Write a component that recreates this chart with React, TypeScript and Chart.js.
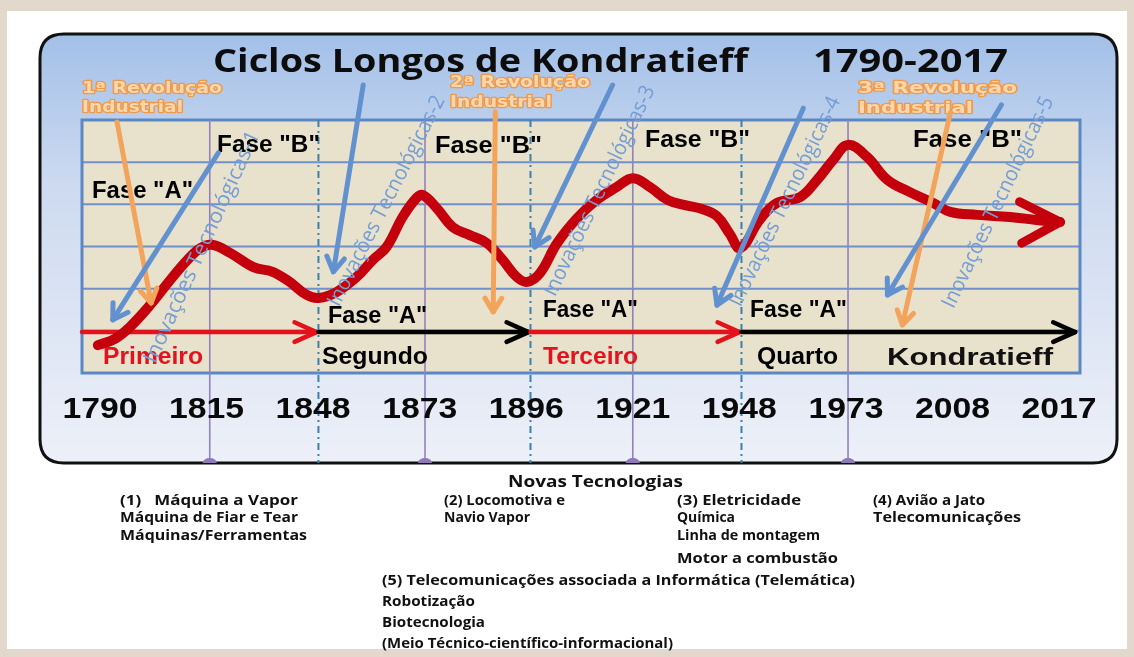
import React, { useEffect, useRef } from "react";
import { Chart, registerables } from "chart.js";

Chart.register(...registerables);

// ---------- DATA ----------
const yearLabels = ["1790", "1815", "1848", "1873", "1896", "1921", "1948", "1973", "2008", "2017"];
const yearTickPositions = [0, 1, 2, 3, 4, 5, 6, 7, 8, 9];
const gridLevels = [0, 1, 2, 3, 4, 5, 6];
const X_MIN = -0.169;
const X_MAX = 9.197;

// long-wave curve (x = position on the year axis, y = level)
const curveX = [-0.02, 0.14, 0.28, 0.47, 0.66, 0.82, 0.94, 1.05, 1.22, 1.44, 1.62, 1.78, 1.94, 2.05, 2.22, 2.41, 2.56, 2.69, 2.84, 2.97, 3.03, 3.16, 3.31, 3.47, 3.63, 3.78, 3.91, 4.01, 4.13, 4.29, 4.48, 4.66, 4.85, 5.0, 5.16, 5.33, 5.49, 5.65, 5.79, 5.91, 6.01, 6.19, 6.35, 6.57, 6.73, 6.88, 7.02, 7.2, 7.39, 7.6, 7.82, 7.98, 8.23, 8.54, 8.79, 9.01];
const curveY = [0.66, 0.81, 1.09, 1.61, 2.21, 2.68, 2.96, 3.04, 2.85, 2.51, 2.4, 2.16, 1.85, 1.78, 1.92, 2.28, 2.68, 2.99, 3.7, 4.15, 4.22, 3.91, 3.46, 3.27, 3.08, 2.68, 2.28, 2.16, 2.37, 3.08, 3.68, 4.1, 4.41, 4.62, 4.41, 4.1, 3.98, 3.89, 3.72, 3.3, 2.96, 3.63, 4.03, 4.17, 4.58, 5.05, 5.41, 5.12, 4.58, 4.29, 4.03, 3.82, 3.75, 3.7, 3.63, 3.58];
const headUpperX = [8.63, 9.01];
const headUpperY = [4.06, 3.58];
const headLowerX = [8.65, 9.01];
const headLowerY = [3.08, 3.58];

// cycle turning points on the axis
const peakPositions = [1.03, 3.05, 5.0, 7.02];
const troughPositions = [2.05, 4.04, 6.02];

// phase arrows ("Primeiro", "Segundo", ...)
const phaseLevel = 0.97;
const phaseStarts = [-0.169, 2.05, 4.04, 6.02];
const phaseEnds = [2.05, 4.04, 6.02, 9.17];
const phaseNames = ["Primeiro", "Segundo", "Terceiro", "Quarto"];

// revolution arrows (orange) & innovation arrows (blue): from -> to
const revFromX = [0.16, 3.71, 7.98];
const revFromY = [5.95, 6.19, 6.17];
const revToX = [0.48, 3.69, 7.53];
const revToY = [1.66, 1.45, 1.14];
const revLabels = ["1ª Revolução", "2ª Revolução", "3ª Revolução"];

const innFromX = [1.11, 2.47, 4.81, 6.6, 8.46];
const innFromY = [5.22, 6.83, 6.83, 6.28, 6.36];
const innToX = [0.12, 2.19, 4.08, 5.79, 7.39];
const innToY = [1.26, 2.4, 2.99, 1.61, 1.85];
const innLabels = ["Inovações Tecnológicas-1", "Inovações Tecnológicas-2", "Inovações Tecnológicas-3", "Inovações Tecnológicas-4", "Inovações Tecnológicas-5"];
const innTextStartX = [0.47, 2.19, 4.22, 5.96, 7.96];
const innTextStartY = [0.26, 1.61, 1.85, 1.61, 1.57];
const innTextEndX = [1.45, 3.19, 5.16, 6.9, 8.9];
const innTextEndY = [5.71, 6.54, 6.78, 6.52, 6.52];

// ---------- STYLE ----------
const RED_CURVE = "#c3000c";
const RED_ARROW = "#e3121c";
const ORANGE = "#f3a45c";
const BLUE = "#6291cf";
const BLUE_TEXT = "#739dd5";
const ARIAL = "'Liberation Sans', Arial, sans-serif";
const CAL = "'Open Sans', 'Noto Sans', sans-serif";

function txt(ctx: CanvasRenderingContext2D, s: string, x: number, y: number, font: string, color: string, w?: number, align: CanvasTextAlign = "left") {
  ctx.save();
  ctx.font = font;
  ctx.fillStyle = color;
  ctx.textBaseline = "alphabetic";
  ctx.textAlign = align;
  const m = ctx.measureText(s).width;
  const sx = w ? w / m : 1;
  ctx.translate(x, y);
  ctx.scale(sx, 1);
  ctx.fillText(s, 0, 0);
  ctx.restore();
}

function arrow(ctx: CanvasRenderingContext2D, x1: number, y1: number, x2: number, y2: number, color: string, width: number, head: number, spread = 0.5) {
  const a = Math.atan2(y2 - y1, x2 - x1);
  ctx.save();
  ctx.strokeStyle = color;
  ctx.lineWidth = width;
  ctx.lineCap = "round";
  ctx.lineJoin = "round";
  ctx.beginPath();
  ctx.moveTo(x1, y1);
  ctx.lineTo(x2, y2);
  ctx.stroke();
  ctx.beginPath();
  ctx.moveTo(x2 - head * Math.cos(a - spread), y2 - head * Math.sin(a - spread));
  ctx.lineTo(x2, y2);
  ctx.lineTo(x2 - head * Math.cos(a + spread), y2 - head * Math.sin(a + spread));
  ctx.stroke();
  ctx.restore();
}

function roundRect(ctx: CanvasRenderingContext2D, x: number, y: number, w: number, h: number, r: number) {
  ctx.beginPath();
  ctx.moveTo(x + r, y);
  ctx.lineTo(x + w - r, y);
  ctx.quadraticCurveTo(x + w, y, x + w, y + r);
  ctx.lineTo(x + w, y + h - r);
  ctx.quadraticCurveTo(x + w, y + h, x + w - r, y + h);
  ctx.lineTo(x + r, y + h);
  ctx.quadraticCurveTo(x, y + h, x, y + h - r);
  ctx.lineTo(x, y + r);
  ctx.quadraticCurveTo(x, y, x + r, y);
  ctx.closePath();
}

const CARD_BOTTOM = 463;

const decoPlugin = {
  id: "kondratieffDeco",
  beforeDraw(chart: any) {
    const ctx: CanvasRenderingContext2D = chart.ctx;
    const xs = chart.scales.x;
    const ys = chart.scales.y;
    const a = chart.chartArea;
    ctx.save();
    // page background
    ctx.fillStyle = "#e2d9cc";
    ctx.fillRect(0, 0, chart.width, chart.height);
    ctx.fillStyle = "#ffffff";
    ctx.fillRect(7, 11, 1120, 638);
    // card
    const g = ctx.createLinearGradient(0, 34, 0, CARD_BOTTOM);
    g.addColorStop(0, "#a3c0e8");
    g.addColorStop(0.35, "#cddaf0");
    g.addColorStop(1, "#edf0f8");
    roundRect(ctx, 40, 34, 1077, CARD_BOTTOM - 34, 24);
    ctx.fillStyle = g;
    ctx.fill();
    ctx.lineWidth = 3;
    ctx.strokeStyle = "#111111";
    ctx.stroke();
    // grid panel
    ctx.fillStyle = "#e8e1cb";
    ctx.fillRect(a.left, a.top, a.right - a.left, a.bottom - a.top);
    ctx.strokeStyle = "#6f90ca";
    ctx.lineWidth = 2;
    gridLevels.forEach((v) => {
      const y = ys.getPixelForValue(v);
      ctx.beginPath();
      ctx.moveTo(a.left, y);
      ctx.lineTo(a.right, y);
      ctx.stroke();
    });
    ctx.strokeStyle = "#5b87c7";
    ctx.lineWidth = 3;
    ctx.strokeRect(a.left, a.top, a.right - a.left, a.bottom - a.top);
    // vertical markers
    peakPositions.forEach((p) => {
      const x = xs.getPixelForValue(p);
      ctx.strokeStyle = "#9182bd";
      ctx.lineWidth = 1.6;
      ctx.beginPath();
      ctx.moveTo(x, a.top);
      ctx.lineTo(x, CARD_BOTTOM);
      ctx.stroke();
      ctx.fillStyle = "#8e7ab7";
      ctx.beginPath();
      ctx.ellipse(x, CARD_BOTTOM, 7, 5, 0, Math.PI, 0);
      ctx.fill();
    });
    ctx.setLineDash([7, 4, 2, 4]);
    troughPositions.forEach((p) => {
      const x = xs.getPixelForValue(p);
      ctx.strokeStyle = "#3a80b0";
      ctx.lineWidth = 2;
      ctx.beginPath();
      ctx.moveTo(x, a.top);
      ctx.lineTo(x, CARD_BOTTOM);
      ctx.stroke();
    });
    ctx.setLineDash([]);

    // phase arrows
    const py = ys.getPixelForValue(phaseLevel);
    phaseStarts.forEach((s, i) => {
      const col = i % 2 === 0 ? RED_ARROW : "#000000";
      arrow(ctx, xs.getPixelForValue(s), py, xs.getPixelForValue(phaseEnds[i]) - 2, py, col, 4.5, 24, 0.42);
    });

    // title
    txt(ctx, "Ciclos Longos de Kondratieff", 213, 72, `bold 32px ${CAL}`, "#0d0d0d", 535);
    txt(ctx, "1790-2017", 813, 72, `bold 32px ${CAL}`, "#0d0d0d", 195);

    // revolution labels
    const revPos = [[82, 93, 140, 112, 101], [450, 87, 140, 107, 102], [858, 93, 159, 113, 115]];
    revLabels.forEach((l, i) => {
      const [x, y1, w1, y2, w2] = revPos[i];
      [[l, y1, w1], ["Industrial", y2, w2]].forEach(([s, yy, ww]: any) => {
        ctx.save();
        ctx.font = `bold 15px 'DejaVu Sans', sans-serif`;
        const m = ctx.measureText(s).width;
        ctx.translate(x, yy);
        ctx.scale(ww / m, 1);
        ctx.lineWidth = 2.5;
        ctx.strokeStyle = "#ef9a4a";
        ctx.lineJoin = "round";
        ctx.strokeText(s, 0, 0);
        ctx.fillStyle = "#fcd7ad";
        ctx.fillText(s, 0, 0);
        ctx.restore();
      });
    });

    // phase labels
    const F = `bold 23px ${ARIAL}`;
    txt(ctx, 'Fase "A"', 92, 198, F, "#000", 101);
    txt(ctx, 'Fase "B"', 217, 152, F, "#000", 103);
    txt(ctx, 'Fase "B"', 435, 153, F, "#000", 107);
    txt(ctx, 'Fase "B"', 645, 147, F, "#000", 105);
    txt(ctx, 'Fase "B"', 913, 147, F, "#000", 109);
    txt(ctx, 'Fase "A"', 328, 323, F, "#000", 99);
    txt(ctx, 'Fase "A"', 543, 317, F, "#000", 95);
    txt(ctx, 'Fase "A"', 750, 317, F, "#000", 97);
    const nameX = [103, 322, 543, 757];
    const nameW = [100, 106, 95, 81];
    phaseNames.forEach((n, i) => {
      txt(ctx, n, nameX[i], 364, F, i % 2 === 0 ? RED_ARROW : "#000", nameW[i]);
    });
    txt(ctx, "Kondratieff", 887, 365, `bold 24px ${ARIAL}`, "#111", 166);

    // year labels via the x scale
    yearTickPositions.forEach((p, i) => {
      txt(ctx, yearLabels[i], xs.getPixelForValue(p), 418, `bold 30px ${ARIAL}`, "#0a0a0a", 75, "center");
    });

    // bottom notes
    const B = `bold 14px ${CAL}`;
    txt(ctx, "Novas Tecnologias", 508, 487, `bold 16px ${CAL}`, "#111", 175);
    txt(ctx, "(1)   Máquina a Vapor", 120, 505, B, "#111", 178);
    txt(ctx, "Máquina de Fiar e Tear", 120, 522, B, "#111", 178);
    txt(ctx, "Máquinas/Ferramentas", 120, 540, B, "#111", 187);
    txt(ctx, "(2) Locomotiva e", 444, 505, B, "#111", 121);
    txt(ctx, "Navio Vapor", 444, 522, B, "#111", 86);
    txt(ctx, "(3) Eletricidade", 677, 505, B, "#111", 124);
    txt(ctx, "Química", 677, 522, B, "#111", 58);
    txt(ctx, "Linha de montagem", 677, 540, B, "#111", 143);
    txt(ctx, "Motor a combustão", 677, 563, `bold 15px ${CAL}`, "#111", 161);
    txt(ctx, "(4) Avião a Jato", 873, 505, B, "#111", 112);
    txt(ctx, "Telecomunicações", 873, 522, B, "#111", 148);
    const C = `bold 15px ${CAL}`;
    txt(ctx, "(5) Telecomunicações associada a Informática (Telemática)", 382, 585, C, "#111", 473);
    txt(ctx, "Robotização", 382, 606, C, "#111", 93);
    txt(ctx, "Biotecnologia", 382, 627, C, "#111", 103);
    txt(ctx, "(Meio Técnico-científico-informacional)", 382, 648, C, "#111", 291);
    ctx.restore();
  },
  afterDatasetsDraw(chart: any) {
    const ctx: CanvasRenderingContext2D = chart.ctx;
    const xs = chart.scales.x;
    const ys = chart.scales.y;
    ctx.save();
    revFromX.forEach((fx, i) => {
      arrow(ctx, xs.getPixelForValue(fx), ys.getPixelForValue(revFromY[i]), xs.getPixelForValue(revToX[i]), ys.getPixelForValue(revToY[i]), ORANGE, 5, 16, 0.55);
    });
    innFromX.forEach((fx, i) => {
      arrow(ctx, xs.getPixelForValue(fx), ys.getPixelForValue(innFromY[i]), xs.getPixelForValue(innToX[i]), ys.getPixelForValue(innToY[i]), BLUE, 5, 17, 0.55);
    });
    innLabels.forEach((l, i) => {
      const x1 = xs.getPixelForValue(innTextStartX[i]);
      const y1 = ys.getPixelForValue(innTextStartY[i]);
      const x2 = xs.getPixelForValue(innTextEndX[i]);
      const y2 = ys.getPixelForValue(innTextEndY[i]);
      const len = Math.hypot(x2 - x1, y2 - y1);
      const ang = Math.atan2(y2 - y1, x2 - x1);
      ctx.save();
      ctx.font = `21px ${CAL}`;
      const m = ctx.measureText(l).width;
      ctx.translate(x1, y1);
      ctx.rotate(ang);
      ctx.scale(len / m, 1);
      ctx.textBaseline = "middle";
      ctx.fillStyle = BLUE_TEXT;
      ctx.fillText(l, 0, 0);
      ctx.restore();
    });
    ctx.restore();
  },
};

export default function App() {
  const ref = useRef<HTMLCanvasElement>(null);
  useEffect(() => {
    if (!ref.current) return;
    const lineStyle = {
      borderColor: RED_CURVE,
      borderWidth: 10,
      pointRadius: 0,
      borderCapStyle: "round" as const,
      borderJoinStyle: "round" as const,
      fill: false,
    };
    const chart = new Chart(ref.current, {
      type: "line",
      data: {
        datasets: [
          { ...lineStyle, data: curveX.map((x, i) => ({ x, y: curveY[i] })), tension: 0.4 },
          { ...lineStyle, borderWidth: 9, data: headUpperX.map((x, i) => ({ x, y: headUpperY[i] })), tension: 0 },
          { ...lineStyle, borderWidth: 9, data: headLowerX.map((x, i) => ({ x, y: headLowerY[i] })), tension: 0 },
        ],
      },
      options: {
        responsive: false,
        animation: false,
        events: [],
        layout: { padding: { left: 82, right: 54, top: 120, bottom: 284 } },
        scales: {
          x: { type: "linear", min: X_MIN, max: X_MAX, display: false },
          y: { type: "linear", min: 0, max: 6, display: false },
        },
        plugins: { legend: { display: false }, tooltip: { enabled: false } },
      },
      plugins: [decoPlugin],
    });
    return () => chart.destroy();
  }, []);
  return (
    <div style={{ position: "fixed", left: 0, top: 0, width: 1134, height: 657 }}>
      <canvas ref={ref} width={1134} height={657} style={{ display: "block" }} />
    </div>
  );
}
